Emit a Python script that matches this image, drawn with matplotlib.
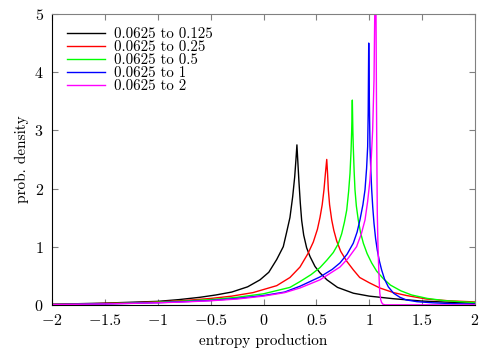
import matplotlib
matplotlib.use('Agg')
import matplotlib.pyplot as plt

# Computer Modern look, like the gnuplot/LaTeX original
plt.rcParams['font.family'] = ['cmr10', 'DejaVu Serif']
plt.rcParams['mathtext.fontset'] = 'cm'
plt.rcParams['axes.formatter.use_mathtext'] = True

# values (x = entropy production, y = density)
x_black = [-2.0, -1.75, -1.5, -1.25, -1.0, -0.8, -0.6, -0.45, -0.3, -0.15, -0.033, 0.05, 0.125, 0.187,
           0.219, 0.25, 0.276, 0.295, 0.307, 0.316,
           0.325, 0.335, 0.348, 0.361, 0.38, 0.408, 0.44, 0.487, 0.534, 0.6, 0.7, 0.85, 1.0,
           1.23, 1.5, 1.75, 2.0]
y_black = [0.01, 0.02, 0.03, 0.045, 0.06, 0.09, 0.13, 0.17, 0.22, 0.31, 0.43, 0.56, 0.78, 1.0,
           1.25, 1.5, 1.86, 2.2, 2.5, 2.75,
           2.45, 2.12, 1.75, 1.45, 1.2, 0.98, 0.83, 0.66, 0.55, 0.43, 0.30, 0.20, 0.15,
           0.105, 0.065, 0.045, 0.03]

x_red = [-2.0, -1.75, -1.5, -1.25, -1.0, -0.75, -0.5, -0.3, -0.1, 0.125, 0.25, 0.345, 0.42, 0.471,
         0.51, 0.534, 0.555, 0.572, 0.585, 0.598,
         0.606, 0.613, 0.625, 0.645, 0.665, 0.692, 0.73, 0.787, 0.85, 0.91, 1.0, 1.1, 1.23,
         1.354, 1.54, 1.75, 2.0]
y_red = [0.008, 0.015, 0.024, 0.035, 0.05, 0.075, 0.11, 0.15, 0.21, 0.33, 0.47, 0.65, 0.88, 1.08,
         1.3, 1.5, 1.72, 1.98, 2.25, 2.50,
         2.25, 1.98, 1.72, 1.46, 1.28, 1.10, 0.92, 0.75, 0.60, 0.47, 0.38, 0.29, 0.21,
         0.16, 0.10, 0.07, 0.05]

x_green = [-2.0, -1.75, -1.5, -1.25, -1.0, -0.75, -0.5, -0.25, 0.0, 0.25, 0.345, 0.45, 0.534, 0.6,
           0.66, 0.707, 0.739, 0.765, 0.787, 0.805, 0.818, 0.828, 0.834, 0.840,
           0.845, 0.849, 0.857, 0.865, 0.878, 0.896, 0.918, 0.944, 0.98, 1.023, 1.07, 1.133,
           1.2, 1.3, 1.4, 1.55, 1.7, 1.85, 2.0]
y_green = [0.006, 0.012, 0.02, 0.03, 0.045, 0.065, 0.09, 0.13, 0.19, 0.30, 0.40, 0.52, 0.64, 0.77,
           0.90, 1.05, 1.22, 1.42, 1.63, 1.95, 2.26, 2.65, 3.0, 3.52,
           3.0, 2.72, 2.3, 1.98, 1.7, 1.46, 1.24, 1.06, 0.88, 0.72, 0.58, 0.45,
           0.34, 0.24, 0.17, 0.11, 0.075, 0.055, 0.04]

x_blue = [-2.0, -1.5, -1.0, -0.75, -0.5, -0.25, 0.0, 0.2, 0.345, 0.534, 0.65, 0.723, 0.79, 0.849,
          0.885, 0.912, 0.94, 0.96, 0.975, 0.985, 0.990, 0.995,
          1.001, 1.007, 1.015, 1.023, 1.033, 1.045, 1.06, 1.076, 1.095, 1.117, 1.145, 1.18,
          1.23, 1.29, 1.35, 1.45, 1.6, 1.8, 2.0]
y_blue = [0.005, 0.016, 0.037, 0.055, 0.075, 0.11, 0.16, 0.22, 0.32, 0.48, 0.61, 0.72, 0.87, 1.06,
          1.25, 1.46, 1.72, 1.98, 2.35, 2.72, 3.3, 4.5,
          3.5, 2.72, 2.3, 1.98, 1.68, 1.40, 1.14, 0.94, 0.76, 0.60, 0.44, 0.31,
          0.20, 0.13, 0.085, 0.055, 0.035, 0.02, 0.012]

x_magenta = [-2.0, -1.5, -1.0, -0.75, -0.5, -0.25, 0.0, 0.2, 0.345, 0.534, 0.723, 0.8, 0.88, 0.925,
             0.96, 0.985, 1.007, 1.02, 1.032, 1.045, 1.052, 1.058,
             1.064, 1.068, 1.072, 1.076, 1.082, 1.089, 1.095, 1.10, 1.108, 1.117, 1.13, 1.15, 2.0]
y_magenta = [0.005, 0.015, 0.035, 0.05, 0.07, 0.10, 0.15, 0.21, 0.29, 0.43, 0.65, 0.80, 1.0, 1.22,
             1.46, 1.78, 2.15, 2.55, 3.0, 3.87, 5.0, 6.5,
             5.0, 3.6, 2.5, 1.58, 1.05, 0.66, 0.38, 0.20, 0.09, 0.04, 0.01, 0.0, 0.0]

labels = ['0.0625 to 0.125', '0.0625 to 0.25', '0.0625 to 0.5', '0.0625 to 1', '0.0625 to 2']
colors = ['#000000', '#ff0000', '#00ff00', '#0000ff', '#ff00ff']

xticks = [-2, -1.5, -1, -0.5, 0, 0.5, 1, 1.5, 2]
xtick_labels = ['$-2$', '$-1.5$', '$-1$', '$-0.5$', '$0$', '$0.5$', '$1$', '$1.5$', '$2$']
yticks = [0, 1, 2, 3, 4, 5]

fig = plt.figure(figsize=(5, 3.5), dpi=100)
ax = fig.add_axes([0.104, 0.129, 0.846, 0.831])

series = [(x_black, y_black), (x_red, y_red), (x_green, y_green), (x_blue, y_blue), (x_magenta, y_magenta)]
for (xs, ys), lab, col in zip(series, labels, colors):
    ax.plot(xs, ys, color=col, lw=1.0, label=lab)

ax.set_xlim(-2, 2)
ax.set_ylim(0, 5)
ax.set_xticks(xticks)
ax.set_xticklabels(xtick_labels)
ax.set_yticks(yticks)
ax.set_yticklabels(['$%d$' % t for t in yticks])

# gnuplot-style frame: dark left/bottom, grey top/right
ax.spines['left'].set_color('black')
ax.spines['bottom'].set_color('black')
ax.spines['top'].set_color('#808080')
ax.spines['right'].set_color('#808080')
ax.tick_params(direction='in', length=4, width=0.8, color='#808080', top=True, right=True,
               labelsize=11.5, pad=6)

ax.set_xlabel('entropy production', fontsize=11)
ax.set_ylabel('prob. density', fontsize=11)

ax.legend(loc='upper left', bbox_to_anchor=(0.022, 0.974), frameon=False, fontsize=10.8,
          handlelength=2.5, labelspacing=-0.05, borderaxespad=0.0, handletextpad=0.6)

fig.savefig('out.png', dpi=100)
